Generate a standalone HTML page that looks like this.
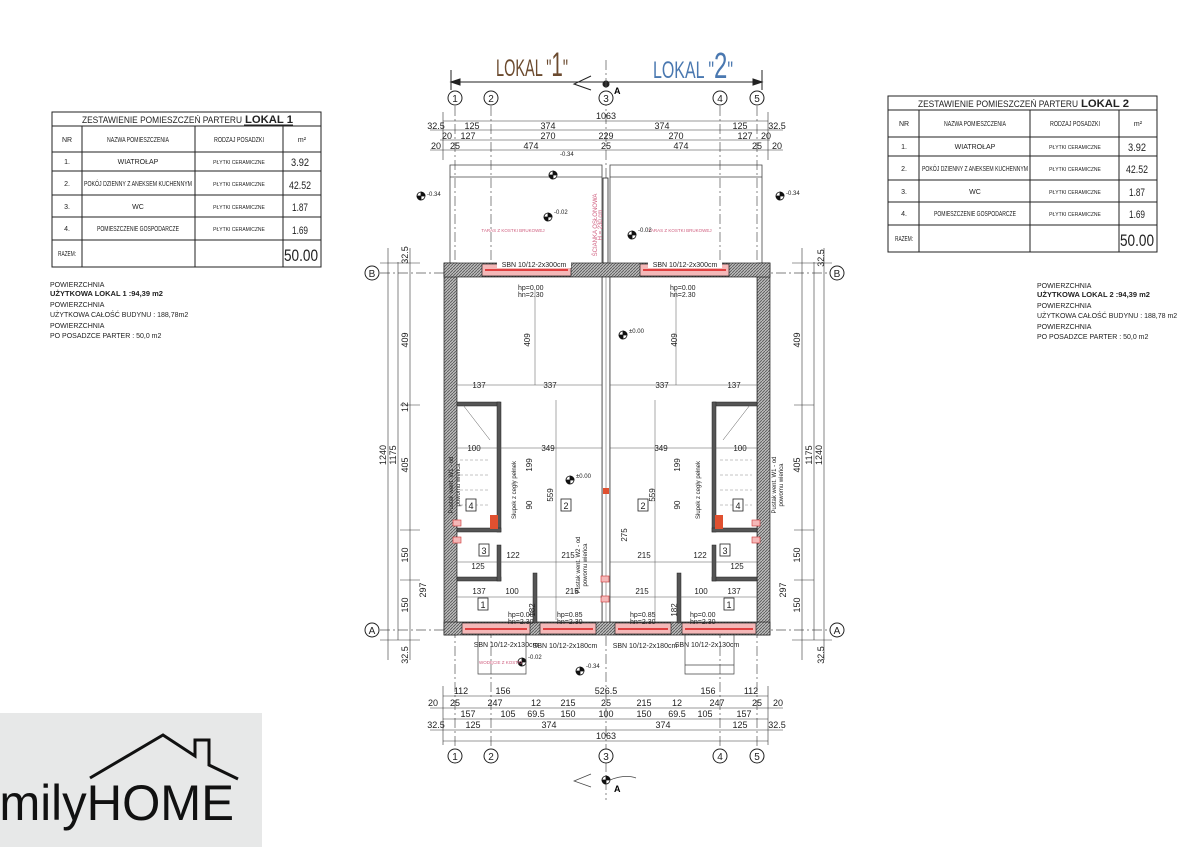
<!DOCTYPE html>
<html><head><meta charset="utf-8"><style>
html,body{margin:0;padding:0;background:#fff;}
svg{display:block;font-family:"Liberation Sans",sans-serif;}
.n{font-family:"Liberation Sans Narrow","Liberation Sans",sans-serif;}
</style></head><body>
<svg width="1198" height="847" viewBox="0 0 1198 847" xmlns="http://www.w3.org/2000/svg">
<defs>
<pattern id="h" width="3" height="3" patternUnits="userSpaceOnUse"><rect width="3" height="3" fill="#bbb"/><path d="M0,3L3,0" stroke="#555" stroke-width="0.8"/></pattern>
</defs>
<rect width="1198" height="847" fill="#fff"/>

<!-- LEFT TABLE -->
<g stroke="#222" stroke-width="1" fill="none">
<rect x="52" y="112" width="269" height="155"/>
<line x1="52" y1="126" x2="321" y2="126"/>
<line x1="52" y1="152" x2="321" y2="152"/>
<line x1="52" y1="171" x2="321" y2="171"/>
<line x1="52" y1="195" x2="321" y2="195"/>
<line x1="52" y1="217" x2="321" y2="217"/>
<line x1="52" y1="240" x2="321" y2="240"/>
<line x1="82" y1="126" x2="82" y2="267"/>
<line x1="195" y1="126" x2="195" y2="267"/>
<line x1="283" y1="126" x2="283" y2="267"/>
</g>
<g font-size="7" fill="#222" text-anchor="middle" class="n">
<text x="82" y="123" font-size="9" text-anchor="start" textLength="160" lengthAdjust="spacingAndGlyphs">ZESTAWIENIE POMIESZCZEŃ PARTERU</text>
<text x="245" y="123" font-size="11" font-weight="bold" text-anchor="start" textLength="48" lengthAdjust="spacingAndGlyphs">LOKAL 1</text>
<line x1="244" y1="125" x2="293" y2="125" stroke="#222"/>
<text x="67" y="142">NR</text><text x="138" y="142" textLength="62" lengthAdjust="spacingAndGlyphs">NAZWA POMIESZCZENIA</text><text x="239" y="142" textLength="50" lengthAdjust="spacingAndGlyphs">RODZAJ POSADZKI</text><text x="302" y="142">m²</text>
<text x="67" y="164">1.</text><text x="138" y="164">WIATROŁAP</text><text x="239" y="164" font-size="5">PŁYTKI CERAMICZNE</text><text x="300" y="166" font-size="11" textLength="18" lengthAdjust="spacingAndGlyphs">3.92</text>
<text x="67" y="186">2.</text><text x="138" y="186" textLength="108" lengthAdjust="spacingAndGlyphs">POKÓJ DZIENNY Z ANEKSEM KUCHENNYM</text><text x="239" y="186" font-size="5">PŁYTKI CERAMICZNE</text><text x="300" y="189" font-size="11" textLength="22" lengthAdjust="spacingAndGlyphs">42.52</text>
<text x="67" y="209">3.</text><text x="138" y="209">WC</text><text x="239" y="209" font-size="5">PŁYTKI CERAMICZNE</text><text x="300" y="211" font-size="11" textLength="16" lengthAdjust="spacingAndGlyphs">1.87</text>
<text x="67" y="231">4.</text><text x="138" y="231" textLength="82" lengthAdjust="spacingAndGlyphs">POMIESZCZENIE GOSPODARCZE</text><text x="239" y="231" font-size="5">PŁYTKI CERAMICZNE</text><text x="300" y="234" font-size="11" textLength="16" lengthAdjust="spacingAndGlyphs">1.69</text>
<text x="67" y="256" textLength="18" lengthAdjust="spacingAndGlyphs">RAZEM:</text><text x="301" y="261" font-size="17" textLength="34" lengthAdjust="spacingAndGlyphs">50.00</text>
</g>
<g font-size="7" fill="#222">
<text x="50" y="287">POWIERZCHNIA</text>
<text x="50" y="296" font-weight="bold" font-size="7.5">UŻYTKOWA LOKAL 1 :94,39 m2</text>
<text x="50" y="307">POWIERZCHNIA</text>
<text x="50" y="317">UŻYTKOWA CAŁOŚĆ BUDYNU : 188,78m2</text>
<text x="50" y="328">POWIERZCHNIA</text>
<text x="50" y="338">PO POSADZCE PARTER : 50,0 m2</text>
</g>

<!-- RIGHT TABLE -->
<g stroke="#222" stroke-width="1" fill="none">
<rect x="888" y="96" width="269" height="156"/>
<line x1="888" y1="110" x2="1157" y2="110"/>
<line x1="888" y1="137" x2="1157" y2="137"/>
<line x1="888" y1="156" x2="1157" y2="156"/>
<line x1="888" y1="180" x2="1157" y2="180"/>
<line x1="888" y1="202" x2="1157" y2="202"/>
<line x1="888" y1="225" x2="1157" y2="225"/>
<line x1="919" y1="110" x2="919" y2="252"/>
<line x1="1030" y1="110" x2="1030" y2="252"/>
<line x1="1119" y1="110" x2="1119" y2="252"/>
</g>
<g font-size="7" fill="#222" text-anchor="middle" class="n">
<text x="918" y="107" font-size="9" text-anchor="start" textLength="160" lengthAdjust="spacingAndGlyphs">ZESTAWIENIE POMIESZCZEŃ PARTERU</text>
<text x="1081" y="107" font-size="11" font-weight="bold" text-anchor="start" textLength="48" lengthAdjust="spacingAndGlyphs">LOKAL 2</text>
<text x="904" y="126">NR</text><text x="975" y="126" textLength="62" lengthAdjust="spacingAndGlyphs">NAZWA POMIESZCZENIA</text><text x="1075" y="126" textLength="50" lengthAdjust="spacingAndGlyphs">RODZAJ POSADZKI</text><text x="1138" y="126">m²</text>
<text x="904" y="149">1.</text><text x="975" y="149">WIATROŁAP</text><text x="1075" y="149" font-size="5">PŁYTKI CERAMICZNE</text><text x="1137" y="151" font-size="11" textLength="18" lengthAdjust="spacingAndGlyphs">3.92</text>
<text x="904" y="171">2.</text><text x="975" y="171" textLength="106" lengthAdjust="spacingAndGlyphs">POKÓJ DZIENNY Z ANEKSEM KUCHENNYM</text><text x="1075" y="171" font-size="5">PŁYTKI CERAMICZNE</text><text x="1137" y="173" font-size="11" textLength="22" lengthAdjust="spacingAndGlyphs">42.52</text>
<text x="904" y="194">3.</text><text x="975" y="194">WC</text><text x="1075" y="194" font-size="5">PŁYTKI CERAMICZNE</text><text x="1137" y="196" font-size="11" textLength="16" lengthAdjust="spacingAndGlyphs">1.87</text>
<text x="904" y="216">4.</text><text x="975" y="216" textLength="82" lengthAdjust="spacingAndGlyphs">POMIESZCZENIE GOSPODARCZE</text><text x="1075" y="216" font-size="5">PŁYTKI CERAMICZNE</text><text x="1137" y="218" font-size="11" textLength="16" lengthAdjust="spacingAndGlyphs">1.69</text>
<text x="904" y="241" textLength="18" lengthAdjust="spacingAndGlyphs">RAZEM:</text><text x="1137" y="246" font-size="17" textLength="34" lengthAdjust="spacingAndGlyphs">50.00</text>
</g>
<g font-size="7" fill="#222">
<text x="1037" y="288">POWIERZCHNIA</text>
<text x="1037" y="297" font-weight="bold" font-size="7.5">UŻYTKOWA LOKAL 2 :94,39 m2</text>
<text x="1037" y="308">POWIERZCHNIA</text>
<text x="1037" y="318">UŻYTKOWA CAŁOŚĆ BUDYNU : 188,78 m2</text>
<text x="1037" y="329">POWIERZCHNIA</text>
<text x="1037" y="339">PO POSADZCE PARTER : 50,0 m2</text>
</g>

<!-- LOGO -->
<rect x="0" y="713" width="262" height="134" fill="#e7e8e8"/>
<polyline points="90,778 163,735 195,756 195,740 209,740 209,765 238,779" fill="none" stroke="#111" stroke-width="3"/>
<text x="-28" y="820" font-size="50" fill="#111" textLength="262" lengthAdjust="spacingAndGlyphs">amilyHOME</text>

<!-- TITLES -->
<text x="496" y="76" font-size="24" fill="#6b4a2e" textLength="72" lengthAdjust="spacingAndGlyphs">LOKAL "<tspan font-size="34">1</tspan>"</text>
<text x="653" y="78" font-size="24" fill="#4a78b0" textLength="80" lengthAdjust="spacingAndGlyphs">LOKAL "<tspan font-size="36">2</tspan>"</text>
<g stroke="#222" stroke-width="1" fill="#222">
<line x1="451" y1="82" x2="762" y2="82"/>
<polygon points="451,82 460,79 460,85"/><polygon points="762,82 753,79 753,85"/>
<line x1="451" y1="70" x2="451" y2="90"/><line x1="762" y1="70" x2="762" y2="90"/>
<circle cx="606" cy="84" r="3"/>
<polyline points="591,76 574,84 591,90" fill="none"/>
</g>
<text x="614" y="94" font-size="9" font-weight="bold">A</text>

<!-- axis lines -->
<g stroke="#555" stroke-width="0.7" stroke-dasharray="10,3,2,3" fill="none">
<line x1="455" y1="106" x2="455" y2="748"/>
<line x1="491" y1="106" x2="491" y2="748"/>
<line x1="606" y1="60" x2="606" y2="800"/>
<line x1="720" y1="106" x2="720" y2="748"/>
<line x1="757" y1="106" x2="757" y2="748"/>
<line x1="380" y1="273" x2="830" y2="273"/>
<line x1="380" y1="630" x2="830" y2="630"/>
</g>
<g stroke="#222" stroke-width="1" fill="#fff">
<circle cx="455" cy="98" r="7"/><circle cx="491" cy="98" r="7"/><circle cx="606" cy="98" r="7"/><circle cx="720" cy="98" r="7"/><circle cx="757" cy="98" r="7"/>
<circle cx="455" cy="756" r="7"/><circle cx="491" cy="756" r="7"/><circle cx="606" cy="756" r="7"/><circle cx="720" cy="756" r="7"/><circle cx="757" cy="756" r="7"/>
<circle cx="372" cy="273" r="7"/><circle cx="837" cy="273" r="7"/><circle cx="372" cy="630" r="7"/><circle cx="837" cy="630" r="7"/>
</g>
<g font-size="10" text-anchor="middle" fill="#222">
<text x="455" y="102">1</text><text x="491" y="102">2</text><text x="606" y="102">3</text><text x="720" y="102">4</text><text x="757" y="102">5</text>
<text x="455" y="760">1</text><text x="491" y="760">2</text><text x="606" y="760">3</text><text x="720" y="760">4</text><text x="757" y="760">5</text>
<text x="372" y="277">B</text><text x="837" y="277">B</text><text x="372" y="634">A</text><text x="837" y="634">A</text>
</g>

<!-- dims -->
<g stroke="#333" stroke-width="0.6">
<line x1="443" y1="121" x2="768" y2="121"/>
<line x1="430" y1="130" x2="783" y2="130"/>
<line x1="440" y1="140" x2="770" y2="140"/>
<line x1="430" y1="150" x2="783" y2="150"/>
<line x1="443" y1="696" x2="768" y2="696"/>
<line x1="430" y1="708" x2="783" y2="708"/>
<line x1="443" y1="719" x2="768" y2="719"/>
<line x1="430" y1="730" x2="783" y2="730"/>
<line x1="443" y1="741" x2="768" y2="741"/>
<line x1="443" y1="112" x2="443" y2="160"/><line x1="768" y1="112" x2="768" y2="160"/>
<line x1="443" y1="686" x2="443" y2="745"/><line x1="768" y1="686" x2="768" y2="745"/>
</g>
<g font-size="9" text-anchor="middle" fill="#222" class="n">
<text x="606" y="119">1063</text>
<text x="436" y="129">32.5</text><text x="472" y="129">125</text><text x="548" y="129">374</text><text x="662" y="129">374</text><text x="740" y="129">125</text><text x="777" y="129">32.5</text>
<text x="447" y="139">20</text><text x="468" y="139">127</text><text x="548" y="139">270</text><text x="606" y="139">229</text><text x="676" y="139">270</text><text x="745" y="139">127</text><text x="766" y="139">20</text>
<text x="436" y="149">20</text><text x="455" y="149">25</text><text x="531" y="149">474</text><text x="606" y="149">25</text><text x="681" y="149">474</text><text x="757" y="149">25</text><text x="777" y="149">20</text>
<text x="461" y="694">112</text><text x="503" y="694">156</text><text x="606" y="694">526.5</text><text x="708" y="694">156</text><text x="751" y="694">112</text>
<text x="433" y="706">20</text><text x="455" y="706">25</text><text x="495" y="706">247</text><text x="536" y="706">12</text><text x="568" y="706">215</text><text x="606" y="706">25</text><text x="644" y="706">215</text><text x="677" y="706">12</text><text x="717" y="706">247</text><text x="757" y="706">25</text><text x="778" y="706">20</text>
<text x="468" y="717">157</text><text x="508" y="717">105</text><text x="536" y="717">69.5</text><text x="568" y="717">150</text><text x="606" y="717">100</text><text x="644" y="717">150</text><text x="677" y="717">69.5</text><text x="705" y="717">105</text><text x="744" y="717">157</text>
<text x="436" y="728">32.5</text><text x="473" y="728">125</text><text x="549" y="728">374</text><text x="663" y="728">374</text><text x="740" y="728">125</text><text x="777" y="728">32.5</text>
<text x="606" y="739">1063</text>
</g>

<g stroke="#333" stroke-width="0.6">
<line x1="388" y1="248" x2="388" y2="660"/><line x1="398" y1="262" x2="398" y2="640"/><line x1="410" y1="248" x2="410" y2="660"/>
<line x1="824" y1="248" x2="824" y2="660"/><line x1="814" y1="262" x2="814" y2="640"/><line x1="802" y1="248" x2="802" y2="660"/>
<line x1="380" y1="263" x2="420" y2="263"/><line x1="380" y1="640" x2="420" y2="640"/>
<line x1="792" y1="263" x2="832" y2="263"/><line x1="792" y1="640" x2="832" y2="640"/>
<line x1="400" y1="405" x2="420" y2="405"/><line x1="400" y1="530" x2="420" y2="530"/><line x1="400" y1="580" x2="420" y2="580"/>
<line x1="794" y1="405" x2="814" y2="405"/><line x1="794" y1="530" x2="814" y2="530"/><line x1="794" y1="580" x2="814" y2="580"/>
</g>
<g font-size="9" fill="#222" class="n" text-anchor="middle">
<text transform="translate(386,455) rotate(-90)">1240</text>
<text transform="translate(396,455) rotate(-90)">1175</text>
<text transform="translate(408,340) rotate(-90)">409</text>
<text transform="translate(408,465) rotate(-90)">405</text>
<text transform="translate(408,407) rotate(-90)">12</text>
<text transform="translate(408,555) rotate(-90)">150</text>
<text transform="translate(408,605) rotate(-90)">150</text>
<text transform="translate(426,590) rotate(-90)">297</text>
<text transform="translate(408,255) rotate(-90)">32.5</text>
<text transform="translate(408,655) rotate(-90)">32.5</text>
<text transform="translate(800,340) rotate(-90)">409</text>
<text transform="translate(800,465) rotate(-90)">405</text>
<text transform="translate(800,555) rotate(-90)">150</text>
<text transform="translate(800,605) rotate(-90)">150</text>
<text transform="translate(812,455) rotate(-90)">1175</text>
<text transform="translate(822,455) rotate(-90)">1240</text>
<text transform="translate(786,590) rotate(-90)">297</text>
<text transform="translate(824,258) rotate(-90)">32.5</text>
<text transform="translate(824,655) rotate(-90)">32.5</text>
</g>

<!-- terraces -->
<g stroke="#444" stroke-width="0.8" fill="none">
<polyline points="450,263 450,165 602,165 602,263"/>
<line x1="450" y1="177" x2="602" y2="177"/>
<polyline points="610,263 610,165 762,165 762,263"/>
<line x1="610" y1="177" x2="762" y2="177"/>
<rect x="603" y="178" width="5" height="85" fill="#fff" stroke="#222"/>
</g>
<g font-size="4.5" fill="#d06080" text-anchor="middle">
<text x="513" y="232">TARAS Z KOSTKI BRUKOWEJ</text>
<text x="680" y="232">TARAS Z KOSTKI BRUKOWEJ</text>
<text transform="translate(597,225) rotate(-90)" font-size="6">ŚCIANKA OSŁONOWA</text>
<text transform="translate(602,225) rotate(-90)" font-size="6">H = 230 cm</text>
</g>

<!-- building walls -->
<g fill="url(#h)" stroke="#222" stroke-width="0.7">
<rect x="444" y="263" width="13" height="372"/>
<rect x="757" y="263" width="13" height="372"/>
<rect x="444" y="263" width="326" height="14"/>
<rect x="444" y="622" width="326" height="13"/>
</g>
<rect x="602" y="277" width="8" height="345" fill="#fff" stroke="#222" stroke-width="0.7"/>
<line x1="606" y1="277" x2="606" y2="622" stroke="#555" stroke-width="0.5"/>
<g fill="#fff" stroke="#222" stroke-width="0.7">
<rect x="457" y="277" width="145" height="345"/>
<rect x="610" y="277" width="147" height="345"/>
<rect x="482" y="264" width="89" height="12" fill="#f4b8b8"/>
<rect x="640" y="264" width="89" height="12" fill="#f4b8b8"/>
<rect x="462" y="623" width="68" height="11" fill="#f4b8b8"/>
<rect x="540" y="623" width="56" height="11" fill="#f4b8b8"/>
<rect x="615" y="623" width="56" height="11" fill="#f4b8b8"/>
<rect x="682" y="623" width="74" height="11" fill="#f4b8b8"/>
</g>
<g stroke="#e04040" stroke-width="2">
<line x1="485" y1="270" x2="568" y2="270"/><line x1="643" y1="270" x2="726" y2="270"/>
<line x1="465" y1="629" x2="527" y2="629"/><line x1="543" y1="629" x2="593" y2="629"/>
<line x1="618" y1="629" x2="668" y2="629"/><line x1="685" y1="629" x2="753" y2="629"/>
</g>
<g font-size="7" fill="#222" text-anchor="middle">
<rect x="497" y="260" width="74" height="8" fill="#fff"/><rect x="648" y="260" width="74" height="8" fill="#fff"/>
<text x="534" y="267">SBN 10/12-2x300cm</text>
<text x="685" y="267">SBN 10/12-2x300cm</text>
<text x="506" y="647">SBN 10/12-2x130cm</text>
<text x="565" y="648">SBN 10/12-2x180cm</text>
<text x="645" y="648">SBN 10/12-2x180cm</text>
<text x="707" y="647">SBN 10/12-2x130cm</text>
</g>

<!-- interior walls -->
<g fill="#555" stroke="#222" stroke-width="0.5">
<rect x="457" y="402" width="43" height="4"/><rect x="497" y="402" width="4" height="130"/>
<rect x="457" y="528" width="44" height="4"/><rect x="457" y="577" width="44" height="4"/>
<rect x="497" y="545" width="4" height="36"/><rect x="533" y="573" width="4" height="50"/>
<rect x="713" y="402" width="44" height="4"/><rect x="712" y="402" width="4" height="130"/>
<rect x="712" y="528" width="45" height="4"/><rect x="712" y="577" width="45" height="4"/>
<rect x="712" y="545" width="4" height="36"/><rect x="677" y="573" width="4" height="50"/>
</g>
<g fill="#e05030"><rect x="490" y="515" width="8" height="14"/><rect x="715" y="515" width="8" height="14"/><rect x="603" y="488" width="6" height="6"/></g>
<g fill="#f4b8b8" stroke="#c33" stroke-width="0.6">
<rect x="453" y="520" width="8" height="6"/><rect x="453" y="537" width="8" height="6"/>
<rect x="752" y="520" width="8" height="6"/><rect x="752" y="537" width="8" height="6"/>
<rect x="601" y="576" width="8" height="6"/><rect x="601" y="596" width="8" height="6"/>
</g>
<g stroke="#555" stroke-width="0.5" fill="none">
<line x1="457" y1="385" x2="602" y2="385"/><line x1="610" y1="385" x2="757" y2="385"/>
<line x1="457" y1="448" x2="602" y2="448"/><line x1="610" y1="448" x2="757" y2="448"/>
<line x1="457" y1="562" x2="602" y2="562"/><line x1="610" y1="562" x2="757" y2="562"/>
<line x1="457" y1="597" x2="602" y2="597"/><line x1="610" y1="597" x2="757" y2="597"/>
<line x1="556" y1="400" x2="556" y2="620"/><line x1="655" y1="400" x2="655" y2="620"/>
<line x1="535" y1="290" x2="535" y2="385"/><line x1="676" y1="290" x2="676" y2="385"/>
<line x1="463" y1="405" x2="490" y2="440"/><line x1="750" y1="405" x2="723" y2="440"/>
</g>
<g stroke="#888" stroke-width="0.5" stroke-dasharray="3,2">
<line x1="460" y1="460" x2="490" y2="460"/><line x1="460" y1="475" x2="490" y2="475"/><line x1="460" y1="490" x2="490" y2="490"/><line x1="460" y1="505" x2="490" y2="505"/>
<line x1="720" y1="460" x2="752" y2="460"/><line x1="720" y1="475" x2="752" y2="475"/><line x1="720" y1="490" x2="752" y2="490"/><line x1="720" y1="505" x2="752" y2="505"/>
</g>
<g font-size="8" fill="#222" text-anchor="middle" class="n">
<text x="479" y="388">137</text><text x="550" y="388">337</text><text x="662" y="388">337</text><text x="734" y="388">137</text>
<text x="548" y="451">349</text><text x="661" y="451">349</text>
<text x="474" y="451">100</text><text x="740" y="451">100</text>
<text x="513" y="558">122</text><text x="568" y="558">215</text><text x="644" y="558">215</text><text x="700" y="558">122</text>
<text x="479" y="594">137</text><text x="512" y="594">100</text><text x="572" y="594">215</text><text x="642" y="594">215</text><text x="701" y="594">100</text><text x="734" y="594">137</text>
<text x="478" y="569">125</text><text x="737" y="569">125</text>
<text transform="translate(530,340) rotate(-90)">409</text>
<text transform="translate(677,340) rotate(-90)">409</text>
<text transform="translate(553,495) rotate(-90)">559</text>
<text transform="translate(655,495) rotate(-90)">559</text>
<text transform="translate(532,465) rotate(-90)">199</text>
<text transform="translate(680,465) rotate(-90)">199</text>
<text transform="translate(532,505) rotate(-90)">90</text>
<text transform="translate(680,505) rotate(-90)">90</text>
<text transform="translate(535,610) rotate(-90)">182</text>
<text transform="translate(677,610) rotate(-90)">182</text>
<text transform="translate(627,535) rotate(-90)">275</text>
</g>
<g font-size="7" fill="#222" class="n">
<text x="518" y="290">hp=0.00</text><text x="518" y="297">hn=2.30</text>
<text x="670" y="290">hp=0.00</text><text x="670" y="297">hn=2.30</text>
<text x="508" y="617">hp=0.00</text><text x="508" y="624">hn=2.30</text>
<text x="557" y="617">hp=0.85</text><text x="557" y="624">hn=2.30</text>
<text x="630" y="617">hp=0.85</text><text x="630" y="624">hn=2.30</text>
<text x="690" y="617">hp=0.00</text><text x="690" y="624">hn=2.30</text>
</g>
<g stroke="#222" stroke-width="0.8" fill="#fff">
<rect x="466" y="499" width="10" height="12"/><rect x="561" y="499" width="10" height="12"/><rect x="638" y="499" width="10" height="12"/><rect x="733" y="499" width="10" height="12"/>
<rect x="479" y="544" width="10" height="12"/><rect x="720" y="544" width="10" height="12"/>
<rect x="478" y="598" width="10" height="12"/><rect x="724" y="598" width="10" height="12"/>
</g>
<g font-size="9" fill="#222" text-anchor="middle">
<text x="471" y="509">4</text><text x="566" y="509">2</text><text x="643" y="509">2</text><text x="738" y="509">4</text>
<text x="484" y="554">3</text><text x="725" y="554">3</text><text x="483" y="608">1</text><text x="729" y="608">1</text>
</g>
<g font-size="6" fill="#222" text-anchor="middle">
<text transform="translate(453,485) rotate(-90)">Pustak went. W1 - od</text>
<text transform="translate(460,485) rotate(-90)">powomu wieńca</text>
<text transform="translate(776,485) rotate(-90)">Pustak went. W1 - od</text>
<text transform="translate(783,485) rotate(-90)">powomu wieńca</text>
<text transform="translate(580,565) rotate(-90)">Pustak went. W2 - od</text>
<text transform="translate(587,565) rotate(-90)">powomu wieńca</text>
<text transform="translate(516,490) rotate(-90)">Słupek z cegły pełnek</text>
<text transform="translate(700,490) rotate(-90)">Słupek z cegły pełnek</text>
</g>

<!-- level markers -->
<g stroke="#111" stroke-width="0.8">
<g transform="translate(421,196)"><circle r="4" fill="#fff"/><path d="M0,-4A4,4 0 0,1 4,0L0,0Z M0,4A4,4 0 0,1 -4,0L0,0Z" fill="#111"/></g>
<g transform="translate(553,175)"><circle r="4" fill="#fff"/><path d="M0,-4A4,4 0 0,1 4,0L0,0Z M0,4A4,4 0 0,1 -4,0L0,0Z" fill="#111"/></g>
<g transform="translate(548,217)"><circle r="4" fill="#fff"/><path d="M0,-4A4,4 0 0,1 4,0L0,0Z M0,4A4,4 0 0,1 -4,0L0,0Z" fill="#111"/></g>
<g transform="translate(632,235)"><circle r="4" fill="#fff"/><path d="M0,-4A4,4 0 0,1 4,0L0,0Z M0,4A4,4 0 0,1 -4,0L0,0Z" fill="#111"/></g>
<g transform="translate(780,196)"><circle r="4" fill="#fff"/><path d="M0,-4A4,4 0 0,1 4,0L0,0Z M0,4A4,4 0 0,1 -4,0L0,0Z" fill="#111"/></g>
<g transform="translate(570,480)"><circle r="4" fill="#fff"/><path d="M0,-4A4,4 0 0,1 4,0L0,0Z M0,4A4,4 0 0,1 -4,0L0,0Z" fill="#111"/></g>
<g transform="translate(623,335)"><circle r="4" fill="#fff"/><path d="M0,-4A4,4 0 0,1 4,0L0,0Z M0,4A4,4 0 0,1 -4,0L0,0Z" fill="#111"/></g>
<g transform="translate(522,662)"><circle r="4" fill="#fff"/><path d="M0,-4A4,4 0 0,1 4,0L0,0Z M0,4A4,4 0 0,1 -4,0L0,0Z" fill="#111"/></g>
<g transform="translate(580,671)"><circle r="4" fill="#fff"/><path d="M0,-4A4,4 0 0,1 4,0L0,0Z M0,4A4,4 0 0,1 -4,0L0,0Z" fill="#111"/></g>
<g transform="translate(606,780)"><circle r="4" fill="#fff"/><path d="M0,-4A4,4 0 0,1 4,0L0,0Z M0,4A4,4 0 0,1 -4,0L0,0Z" fill="#111"/></g>
</g>
<g font-size="6" fill="#222">
<text x="427" y="196">-0.34</text><text x="560" y="156">-0.34</text><text x="554" y="214">-0.02</text><text x="638" y="232">-0.02</text><text x="786" y="195">-0.34</text>
<text x="576" y="478">±0.00</text><text x="629" y="333">±0.00</text><text x="528" y="659">-0.02</text><text x="586" y="668">-0.34</text>
</g>
<g stroke="#444" stroke-width="0.7" fill="none">
<polyline points="478,635 478,674 526,674 526,635"/>
<polyline points="685,635 685,674 734,674 734,635"/><line x1="685" y1="665" x2="734" y2="665"/>
<polyline points="591,774 574,781 591,787"/>
<path d="M610,780 Q625,774 636,778"/>
</g>
<text x="479" y="664" font-size="4.5" fill="#d06080">WODĘCIE Z KOSTKI</text>
<text x="614" y="792" font-size="9" font-weight="bold">A</text>
</svg>
</body></html>
